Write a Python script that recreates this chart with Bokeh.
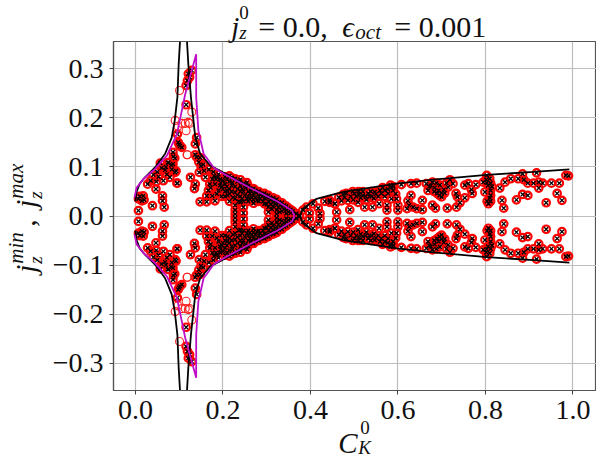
from bokeh.plotting import figure
from bokeh.models import FixedTicker, ColumnDataSource
from bokeh.core.properties import value
from bokeh.embed import file_html
from bokeh.resources import INLINE

# Upper half of the boundary curves (the lower half is the mirror image)
black_left_c = [0.000, 0.003, 0.010, 0.022, 0.045, 0.068, 0.083, 0.090, 0.096, 0.099, 0.102]
black_left_j = [0.030, 0.050, 0.066, 0.079, 0.099, 0.127, 0.160, 0.195, 0.242, 0.310, 0.356]
black_right_c = [0.118, 0.121, 0.127, 0.137, 0.148, 0.171, 0.200, 0.263, 0.324, 0.358, 0.376,
                 0.383, 0.414, 0.475, 0.597, 0.681, 0.803, 0.910, 0.992]
black_right_j = [0.356, 0.310, 0.242, 0.160, 0.127, 0.103, 0.089, 0.059, 0.031, 0.011, 0.000,
                 0.015, 0.035, 0.049, 0.066, 0.074, 0.084, 0.090, 0.095]
magenta_c = [-0.002, 0.003, 0.018, 0.045, 0.072, 0.095, 0.114, 0.139, 0.139, 0.144, 0.156, 0.179,
             0.200, 0.263, 0.324, 0.358, 0.364]
magenta_j = [0.038, 0.058, 0.075, 0.096, 0.123, 0.167, 0.249, 0.330, 0.242, 0.174, 0.127, 0.099,
             0.087, 0.057, 0.030, 0.011, 0.000]

# Points with circle and cross, upper half
pts_spike = [(0.102,0.143),(0.098,0.150),(0.106,0.140),(0.096,0.167),(0.086,0.130),(0.076,0.109),
             (0.093,0.092),(0.096,0.067),(0.140,0.160),(0.137,0.147),(0.140,0.120),(0.121,0.290),
             (0.119,0.276),(0.129,0.297),(0.124,0.283),(0.116,0.266),(0.116,0.227),(0.100,0.146),
             (0.090,0.118),(0.082,0.104),(0.145,0.110),(0.150,0.102),(0.070,0.100)]
pts_left = [(0.007,0.011),(0.007,0.035),(0.018,0.041),(0.015,0.031),(0.010,0.040),(0.020,0.033),
            (0.039,0.021),(0.066,0.018),(0.062,0.041),(0.062,0.031),(0.047,0.055),(0.028,0.065),
            (0.041,0.084),(0.053,0.080),(0.064,0.072),(0.068,0.094),(0.079,0.079),(0.095,0.067),
            (0.091,0.089),(0.074,0.109),(0.087,0.121),(0.086,0.106),(0.057,0.108),(0.035,0.072),
            (0.050,0.090),(0.060,0.098),(0.048,0.070),(0.072,0.085),(0.083,0.095)]
pts_inner = [(0.126,0.079),(0.137,0.065),(0.135,0.056),(0.148,0.029),(0.163,0.029),(0.146,0.089),
             (0.157,0.092),(0.160,0.079),(0.167,0.052),(0.163,0.041),(0.176,0.041),(0.182,0.031),
             (0.176,0.075),(0.182,0.065),(0.190,0.052),(0.194,0.075),(0.190,0.085),(0.148,0.119),
             (0.137,0.125),(0.155,0.105),(0.168,0.095),(0.178,0.090),(0.170,0.065),(0.197,0.040),
             (0.186,0.045),(0.198,0.060),(0.187,0.078),(0.172,0.058)]
pts_mid = [(0.205,0.080),(0.205,0.065),(0.205,0.050),(0.205,0.040),(0.215,0.082),(0.215,0.070),
           (0.215,0.055),(0.215,0.045),(0.215,0.030),(0.228,0.076),(0.228,0.060),(0.228,0.048),
           (0.228,0.035),(0.228,0.022),(0.228,0.012),(0.228,0.004),(0.240,0.074),(0.240,0.062),
           (0.240,0.050),(0.240,0.040),(0.240,0.028),(0.247,0.066),(0.247,0.050),(0.247,0.030),
           (0.247,0.018),(0.247,0.006),(0.258,0.061),(0.258,0.050),(0.258,0.040),(0.258,0.030),
           (0.270,0.056),(0.270,0.045),(0.270,0.033),(0.270,0.026),(0.282,0.050),(0.282,0.040),
           (0.282,0.030),(0.295,0.046),(0.295,0.036),(0.295,0.025),(0.304,0.042),(0.304,0.030),
           (0.304,0.018),(0.304,0.008),(0.315,0.037),(0.315,0.028),(0.315,0.020),(0.323,0.034),
           (0.323,0.022),(0.323,0.012),(0.323,0.004),(0.335,0.027),(0.335,0.018),(0.335,0.010),
           (0.345,0.020),(0.345,0.012),(0.345,0.005),(0.355,0.013),(0.355,0.006),(0.368,0.005),
           (0.375,0.001),(0.383,0.012),(0.391,0.018),(0.398,0.006),(0.406,0.025),(0.418,0.016),
           (0.422,0.005),(0.433,0.030),(0.444,0.032),(0.456,0.025),(0.460,0.008),(0.210,0.075),
           (0.222,0.068),(0.234,0.055),(0.252,0.058),(0.264,0.052),(0.276,0.047),(0.288,0.044),
           (0.300,0.038),(0.310,0.033),(0.328,0.028)]
pts_mid_fill = [(0.201,0.072),(0.209,0.060),(0.211,0.042),(0.220,0.078),(0.220,0.062),(0.220,0.050),
                (0.223,0.038),(0.233,0.070),(0.233,0.043),(0.236,0.030),(0.244,0.056),(0.244,0.035),
                (0.250,0.042),(0.255,0.068),(0.255,0.035),(0.262,0.046),(0.262,0.034),(0.266,0.038),
                (0.274,0.052),(0.274,0.038),(0.278,0.032),(0.285,0.046),(0.285,0.035),(0.290,0.040),
                (0.292,0.030),(0.298,0.042),(0.300,0.024),(0.308,0.038),(0.309,0.024),(0.312,0.014),
                (0.318,0.032),(0.320,0.025),(0.327,0.018),(0.330,0.008),(0.332,0.024),(0.340,0.022),
                (0.340,0.014),(0.350,0.016),(0.350,0.008),(0.360,0.010),(0.195,0.068),(0.200,0.055),
                (0.210,0.052),(0.193,0.062),(0.180,0.082),(0.184,0.075)]
pts_right = [(0.984,0.083),(0.990,0.082),(0.969,0.067),(0.951,0.067),(0.964,0.046),(0.975,0.032),
             (0.939,0.027),(0.931,0.067),(0.922,0.069),(0.922,0.057),(0.910,0.067),(0.897,0.067),
             (0.888,0.074),(0.885,0.086),(0.917,0.088),(0.897,0.042),(0.885,0.044),(0.871,0.033),
             (0.875,0.076),(0.858,0.076),(0.845,0.069),(0.833,0.057),(0.838,0.032),(0.842,0.016),
             (0.810,0.076),(0.803,0.083),(0.812,0.067),(0.795,0.069),(0.812,0.052),(0.799,0.049),
             (0.810,0.037),(0.807,0.025),(0.778,0.064),(0.761,0.066),(0.753,0.063),(0.768,0.054),
             (0.770,0.046),(0.753,0.037),(0.742,0.027),(0.733,0.046),(0.736,0.039),(0.713,0.016),
             (0.734,0.018),(0.719,0.074),(0.726,0.066),(0.711,0.067),(0.715,0.059),(0.696,0.063),
             (0.688,0.067),(0.679,0.069),(0.665,0.066),(0.669,0.052),(0.690,0.046),(0.707,0.047),
             (0.700,0.039),(0.679,0.022),(0.686,0.016),(0.656,0.032),(0.656,0.013),(0.630,0.042),
             (0.623,0.031),(0.626,0.022),(0.621,0.015),(0.635,0.018),(0.643,0.015),(0.630,0.066),
             (0.643,0.067),(0.608,0.064),(0.583,0.063),(0.589,0.052),(0.578,0.046),(0.585,0.035),
             (0.575,0.022),(0.575,0.012),(0.600,0.022),(0.600,0.012),(0.597,0.035),(0.559,0.052),
             (0.547,0.049),(0.532,0.046),(0.520,0.042),(0.501,0.046),(0.482,0.046),(0.486,0.032),
             (0.498,0.033),(0.509,0.028),(0.528,0.033),(0.542,0.018),(0.524,0.018),(0.490,0.013),
             (0.557,0.025),(0.471,0.031),(0.456,0.025),(0.444,0.028),(0.570,0.040),(0.555,0.040),
             (0.540,0.040),(0.515,0.037),(0.492,0.040),(0.565,0.058),(0.590,0.060),(0.475,0.044),
             (0.465,0.038),(0.510,0.050),(0.545,0.036),(0.577,0.055)]
pts_right_fill = [(0.478,0.038),(0.505,0.040),(0.512,0.044),(0.526,0.040),(0.535,0.040),(0.550,0.045),
                  (0.562,0.046),(0.570,0.052),(0.585,0.058),(0.595,0.045),(0.497,0.050),(0.520,0.050),
                  (0.538,0.050),(0.675,0.062),(0.684,0.058),(0.693,0.052),(0.700,0.047),(0.695,0.042),
                  (0.683,0.050),(0.672,0.060),(0.705,0.054),(0.802,0.074),(0.806,0.062),(0.815,0.060),
                  (0.803,0.068),(0.812,0.042),(0.804,0.030),(0.812,0.030)]
# Circles without a cross
pts_open = [(0.101,0.256),(0.129,0.212),(0.119,0.125),(0.116,0.174),(0.121,0.191),(0.114,0.189),
            (0.091,0.195),(0.106,0.189),(0.118,0.125),(0.097,0.183),(0.124,0.189)]

x_ticks = [0.0, 0.2, 0.4, 0.6, 0.8, 1.0]
x_tick_labels = ["0.0", "0.2", "0.4", "0.6", "0.8", "1.0"]
y_ticks = [-0.3, -0.2, -0.1, 0.0, 0.1, 0.2, 0.3]
y_tick_labels = ["\u22120.3", "\u22120.2", "\u22120.1", "0.0", "0.1", "0.2", "0.3"]
title_parts = ["= 0.0,", "= 0.001"]

FONT = "Liberation Serif"

p = figure(width=596, height=460, output_backend="svg", toolbar_location=None,
           x_range=(-0.05, 1.054), y_range=(-0.356, 0.356),
           min_border_left=113, min_border_right=0, min_border_top=41, min_border_bottom=70)
p.background_fill_color = "white"
p.outline_line_color = "#555555"
p.outline_line_width = 1.2
for ax in (p.xaxis[0], p.yaxis[0]):
    ax.major_label_text_font = FONT
    ax.major_label_text_font_size = "28px"
    ax.major_label_text_color = "#111111"
    ax.minor_tick_line_color = None
    ax.major_tick_out = 4
    ax.major_tick_in = 0
    ax.major_tick_line_color = "#444444"
    ax.axis_line_color = "#555555"
    ax.axis_line_width = 1.2
p.xaxis[0].ticker = FixedTicker(ticks=x_ticks)
p.yaxis[0].ticker = FixedTicker(ticks=y_ticks)
p.xaxis[0].major_label_overrides = dict(zip(x_ticks, x_tick_labels))
p.yaxis[0].major_label_overrides = dict(zip(y_ticks, y_tick_labels))
p.xaxis[0].major_label_standoff = 6
p.yaxis[0].major_label_standoff = 6
p.xgrid[0].ticker = FixedTicker(ticks=x_ticks)
p.ygrid[0].ticker = FixedTicker(ticks=y_ticks)
p.grid.grid_line_color = "#bdbdbd"
p.grid.grid_line_width = 1.2

crossed = pts_spike + pts_left + pts_inner + pts_mid + pts_mid_fill + pts_right + pts_right_fill
cx = [c for c, j in crossed] * 2
cy = [j for c, j in crossed] + [-j for c, j in crossed]
ox = [c for c, j in pts_open] * 2
oy = [j for c, j in pts_open] + [-j for c, j in pts_open]
src = ColumnDataSource(dict(x=cx, y=cy))

p.scatter("x", "y", source=src, marker="circle", size=7.5, fill_color=None,
          line_color="#ff0000", line_width=2.2)
p.scatter(ox, oy, marker="circle", size=8, fill_color=None, line_color="#ff2020", line_width=1.1)
p.scatter("x", "y", source=src, marker="x", size=5.5, line_color="black", line_width=1.3)

for sign in (1, -1):
    p.line(black_left_c, [sign * j for j in black_left_j], line_color="black", line_width=1.8)
    p.line(black_right_c, [sign * j for j in black_right_j], line_color="black", line_width=1.8)
    p.line(magenta_c, [sign * j for j in magenta_j], line_color="#bf10c8", line_width=1.8)


def dx(px):
    return (px - 135.3) / 437.0


def dy(py):
    return (215.3 - py) / 490.0


def put(px, py, text, size, italic=True, angle=0):
    p.text([dx(px)], [dy(py)], text=[text], text_font=value(FONT),
           text_font_size=f"{size}px", text_color="#111111",
           text_font_style="italic" if italic else "normal",
           text_align="left", text_baseline="alphabetic", angle=angle, level="overlay")


# Title
put(231, 26, "j", 29)
put(239, 12, "0", 19, italic=False)
put(239, 32, "z", 19)
put(258, 26, title_parts[0], 30, italic=False)
put(342, 26, "\u03f5", 29)
put(355, 31, "oct", 21)
put(394, 26, title_parts[1], 30, italic=False)

# x label
put(338, 442, "C", 29)
put(360, 427, "0", 19, italic=False)
put(358, 447, "K", 19)

# y label
A = 1.5708
put(26, 272, "j", 29, angle=A)
put(16, 263, "min", 21, angle=A)
put(36, 263, "z", 19, angle=A)
put(26, 226, ",", 29, italic=False, angle=A)
put(26, 207, "j", 29, angle=A)
put(16, 198, "max", 21, angle=A)
put(36, 198, "z", 19, angle=A)

open("out.html", "w").write(file_html(p, INLINE))
